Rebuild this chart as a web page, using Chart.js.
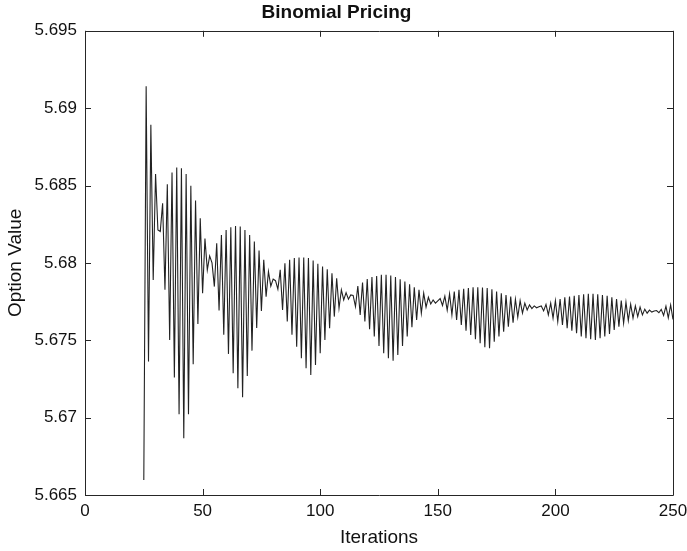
<!DOCTYPE html>
<html><head><meta charset="utf-8">
<script src="https://cdn.jsdelivr.net/npm/chart.js@4.4.1/dist/chart.umd.min.js"></script>
<style>html,body{margin:0;padding:0;background:#fff}#wrap{width:687px;height:551px;position:relative}</style>
</head><body><div id="wrap"><canvas id="c"></canvas></div>
<script>
const chartTitle = 'Binomial Pricing';
const xTitle = 'Iterations';
const yTitle = 'Option Value';
const firstIteration = 25;
const optionValues = [
5.66597,5.69141,5.67362,5.68892,5.67890,5.68574,5.68213,5.68203,5.68386,5.67826,
5.68509,5.67502,5.68584,5.67259,5.68616,5.67022,5.68612,5.66867,5.68574,5.67022,
5.68498,5.67345,5.68403,5.67606,5.68289,5.67804,5.68157,5.67955,5.68045,5.68000,
5.67847,5.68127,5.67692,5.68181,5.67535,5.68213,5.67412,5.68230,5.67287,5.68239,
5.67190,5.68235,5.67132,5.68213,5.67269,5.68181,5.67433,5.68138,5.67580,5.68080,
5.67690,5.68020,5.67782,5.67944,5.67850,5.67895,5.67885,5.67830,5.67955,5.67696,
5.67998,5.67621,5.68020,5.67535,5.68031,5.67459,5.68035,5.67384,5.68035,5.67319,
5.68031,5.67276,5.68015,5.67341,5.67994,5.67416,5.67976,5.67502,5.67959,5.67578,
5.67933,5.67653,5.67901,5.67707,5.67826,5.67761,5.67808,5.67765,5.67793,5.67790,
5.67718,5.67851,5.67664,5.67873,5.67621,5.67895,5.67571,5.67908,5.67524,5.67916,
5.67463,5.67923,5.67416,5.67923,5.67384,5.67918,5.67368,5.67908,5.67405,5.67895,
5.67463,5.67880,5.67524,5.67862,5.67584,5.67843,5.67632,5.67826,5.67675,5.67804,
5.67714,5.67778,5.67735,5.67761,5.67740,5.67755,5.67770,5.67725,5.67785,5.67695,
5.67800,5.67664,5.67815,5.67632,5.67826,5.67599,5.67832,5.67562,5.67838,5.67535,
5.67843,5.67507,5.67843,5.67481,5.67841,5.67455,5.67838,5.67449,5.67830,5.67491,
5.67815,5.67524,5.67804,5.67556,5.67793,5.67588,5.67782,5.67614,5.67765,5.67649,
5.67756,5.67675,5.67740,5.67696,5.67729,5.67705,5.67722,5.67710,5.67716,5.67722,
5.67690,5.67732,5.67664,5.67740,5.67643,5.67756,5.67621,5.67767,5.67599,5.67778,
5.67578,5.67782,5.67562,5.67787,5.67546,5.67793,5.67524,5.67798,5.67513,5.67800,
5.67507,5.67800,5.67502,5.67798,5.67513,5.67793,5.67524,5.67787,5.67541,5.67778,
5.67567,5.67767,5.67588,5.67756,5.67610,5.67746,5.67627,5.67733,5.67643,5.67722,
5.67653,5.67714,5.67664,5.67701,5.67675,5.67695,5.67682,5.67689,5.67692,5.67678,
5.67700,5.67660,5.67720,5.67645,5.67728,5.67635
];
const xTicks = [0, 50, 100, 150, 200, 250];
const xTickLabels = ['0', '50', '100', '150', '200', '250'];
const yTicks = [5.665, 5.67, 5.675, 5.68, 5.685, 5.69, 5.695];
const yTickLabels = ['5.665', '5.67', '5.675', '5.68', '5.685', '5.69', '5.695'];

const points = optionValues.map((v, i) => ({x: firstIteration + i, y: v}));
const textColor = '#111111';
const axisColor = '#262626';
const fontFamily = '"Liberation Sans", Arial, Helvetica, sans-serif';

const framePlugin = {
  id: 'frame',
  afterDatasetsDraw(chart) {
    const {ctx, chartArea: a, scales} = chart;
    ctx.save();
    ctx.strokeStyle = axisColor;
    ctx.lineWidth = 1;
    ctx.beginPath();
    ctx.rect(Math.round(a.left) + 0.5, Math.round(a.top) + 0.5, Math.round(a.right - a.left), Math.round(a.bottom - a.top));
    ctx.stroke();
    const L = 6;
    ctx.beginPath();
    xTicks.forEach(v => {
      const px = Math.round(scales.x.getPixelForValue(v)) + 0.5;
      ctx.moveTo(px, a.bottom); ctx.lineTo(px, a.bottom - L);
      ctx.moveTo(px, a.top); ctx.lineTo(px, a.top + L);
    });
    yTicks.forEach(v => {
      const py = Math.round(scales.y.getPixelForValue(v)) + 0.5;
      ctx.moveTo(a.left, py); ctx.lineTo(a.left + L, py);
      ctx.moveTo(a.right, py); ctx.lineTo(a.right - L, py);
    });
    ctx.stroke();
    ctx.restore();
  }
};

new Chart(document.getElementById('c'), {
  type: 'line',
  data: {
    datasets: [{
      data: points,
      borderColor: '#222222',
      borderWidth: 1.1,
      pointRadius: 0,
      tension: 0,
      fill: false
    }]
  },
  options: {
    responsive: true,
    maintainAspectRatio: false,
    animation: false,
    devicePixelRatio: 1,
    layout: {padding: {left: 0, right: 14, top: 0, bottom: 0}},
    plugins: {
      legend: {display: false},
      tooltip: {enabled: false},
      title: {
        display: true,
        text: chartTitle,
        color: textColor,
        font: {family: fontFamily, size: 19, weight: 'bold'},
        padding: {top: 1, bottom: 7}
      }
    },
    scales: {
      x: {
        type: 'linear',
        min: 0, max: 250,
        afterFit(s) { s.height = 56; s.paddingLeft = 0; s.paddingRight = 0; },
        afterBuildTicks(s) { s.ticks = xTicks.map(v => ({value: v})); },
        grid: {display: false, drawTicks: false},
        border: {display: false},
        ticks: {
          color: textColor,
          font: {family: fontFamily, size: 17},
          padding: 6,
          maxRotation: 0,
          callback: (v, i) => xTickLabels[i]
        },
        title: {
          display: true, text: xTitle, color: textColor,
          font: {family: fontFamily, size: 19},
          padding: {top: 0, bottom: 2}
        }
      },
      y: {
        type: 'linear',
        min: 5.665, max: 5.695,
        afterFit(s) { s.width = 85; s.paddingTop = 0; s.paddingBottom = 0; },
        afterBuildTicks(s) { s.ticks = yTicks.map(v => ({value: v})); },
        grid: {display: false, drawTicks: false},
        border: {display: false},
        ticks: {
          color: textColor,
          font: {family: fontFamily, size: 17},
          padding: 8,
          callback: (v, i) => yTickLabels[i]
        },
        title: {
          display: true, text: yTitle, color: textColor,
          font: {family: fontFamily, size: 19},
          padding: {top: 4, bottom: 0}
        }
      }
    }
  },
  plugins: [framePlugin]
});
</script>
</body></html>
